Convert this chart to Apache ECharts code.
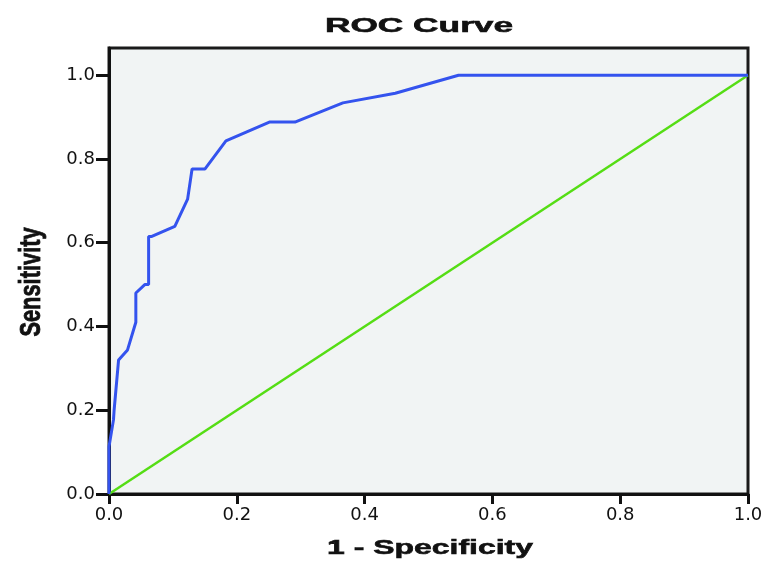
<!DOCTYPE html>
<html>
<head>
<meta charset="utf-8">
<script src="https://cdn.jsdelivr.net/npm/echarts@6/dist/echarts.min.js"></script>
<style>
  html, body { margin: 0; padding: 0; background: #fff; }
  #roc_chart { width: 782px; height: 575px; }
</style>
</head>
<body>
<div id="roc_chart"></div>
<script>
	// ROC points (1 - specificity, sensitivity)
	var fpr = [0, 0, 0.007, 0.008, 0.015, 0.029, 0.042, 0.042, 0.056, 0.062, 0.062, 0.067, 0.103, 0.123, 0.130, 0.150, 0.183, 0.251, 0.291, 0.366, 0.448, 0.547, 1.0]
	var tpr = [0, 0.113, 0.177, 0.200, 0.320, 0.344, 0.410, 0.480, 0.500, 0.500, 0.615, 0.615, 0.639, 0.704, 0.776, 0.776, 0.843, 0.888, 0.888, 0.934, 0.957, 1.0, 1.0]

	// reference diagonal
	var diagX = [0, 1]
	var diagY = [0, 1]

	var tickValues = [0, 0.2, 0.4, 0.6, 0.8, 1.0]

	var titleText = 'ROC Curve'
	var xName = '1 - Specificity'
	var yName = 'Sensitivity'

	var blue = '#3453ee'
	var green = '#55dd14'
	var axisColor = '#111'
	var labelFont = 'DejaVu Sans'
	var nameFont = 'Liberation Sans, Arial, sans-serif'

	function zip(a, b) {
		return a.map(function(v, i) { return [v, b[i]] })
	}

	function nameStyle(text) {
		return {
			text: text,
			fill: '#111',
			stroke: '#111',
			lineWidth: 0.6,
			font: 'bold 21px ' + nameFont,
			align: 'center',
			verticalAlign: 'middle'
		}
	}

	var rocChart = echarts.init(document.getElementById('roc_chart'))

	rocChart.setOption({
		animation: false,
		backgroundColor: '#fff',
		grid: {
			left: 109,
			right: 34,
			top: 48,
			bottom: 81,
			show: true,
			backgroundColor: '#f1f4f4',
			borderColor: '#1a1a1a',
			borderWidth: 3
		},
		xAxis: {
			type: 'value',
			min: 0,
			max: 1,
			interval: 0.2,
			splitLine: { show: false },
			axisLine: { lineStyle: { color: axisColor, width: 3 } },
			axisTick: { length: 10, lineStyle: { color: axisColor, width: 3 } },
			axisLabel: {
				margin: 12,
				color: '#111',
				fontFamily: labelFont,
				fontSize: 18,
				formatter: function(v) { return v.toFixed(1) }
			}
		},
		yAxis: {
			type: 'value',
			min: 0,
			max: 1.065,
			splitLine: { show: false },
			axisLine: { lineStyle: { color: axisColor, width: 3 } },
			axisTick: {
				length: 13,
				customValues: tickValues,
				lineStyle: { color: axisColor, width: 3 }
			},
			axisLabel: {
				margin: 14,
				customValues: tickValues,
				color: '#111',
				fontFamily: labelFont,
				fontSize: 18,
				formatter: function(v) { return v.toFixed(1) }
			}
		},
		series: [
			{
				type: 'line',
				data: zip(diagX, diagY),
				showSymbol: false,
				lineStyle: { color: green, width: 2.5 },
				z: 2
			},
			{
				type: 'line',
				data: zip(fpr, tpr),
				showSymbol: false,
				lineStyle: { color: blue, width: 3 },
				z: 3
			}
		],
		graphic: [
			{
				type: 'text',
				x: 419, y: 26,
				scaleX: 1.68,
				style: nameStyle(titleText)
			},
			{
				type: 'text',
				x: 430, y: 548,
				scaleX: 1.52,
				style: nameStyle(xName)
			},
			{
				type: 'text',
				x: 32, y: 282,
				rotation: Math.PI / 2,
				scaleX: 1.04,
				scaleY: 1.4,
				style: nameStyle(yName)
			}
		]
	})
</script>
</body>
</html>
